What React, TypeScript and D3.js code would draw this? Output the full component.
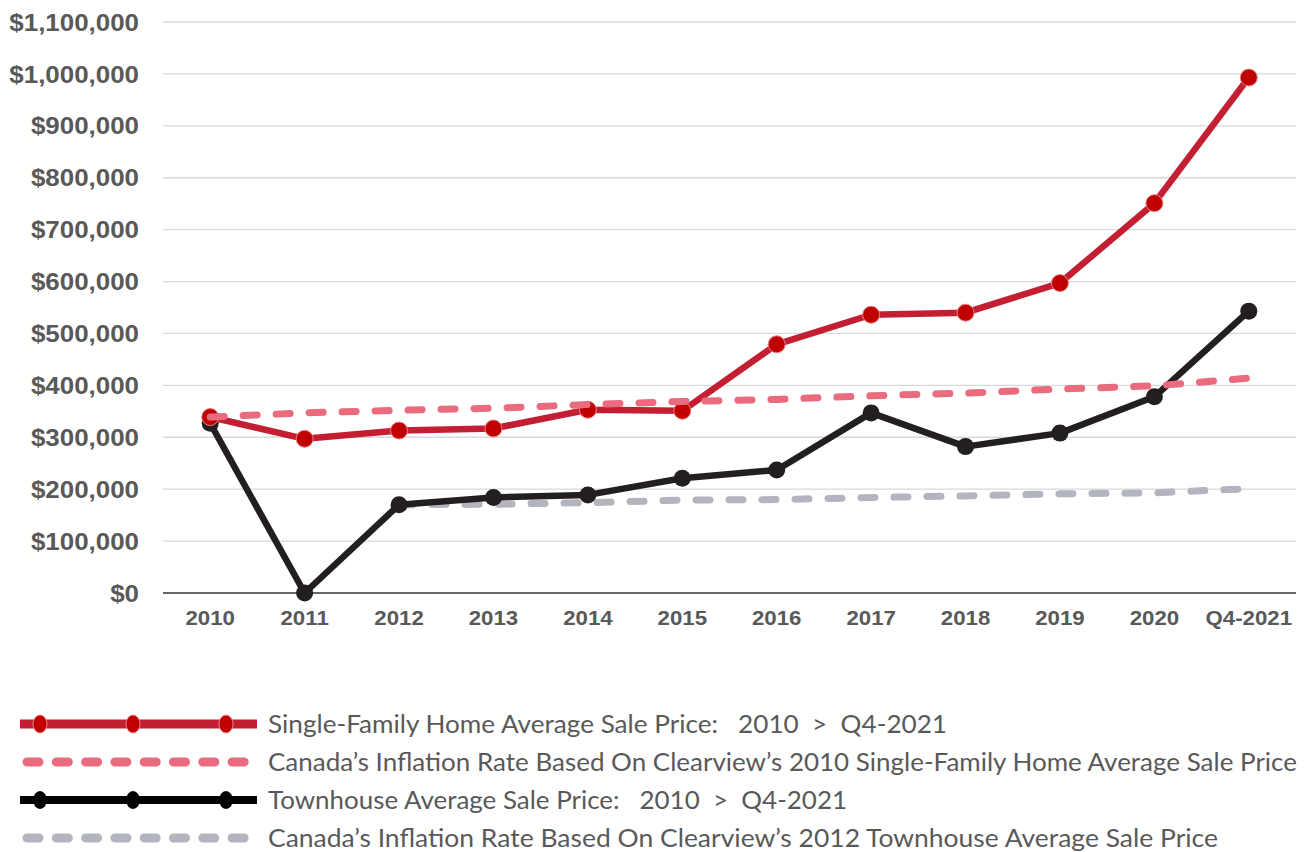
import React from "react";
import * as d3 from "d3";

const categories = ["2010", "2011", "2012", "2013", "2014", "2015", "2016", "2017", "2018", "2019", "2020", "Q4-2021"];
const singleFamily = [339000, 297000, 313000, 317000, 353000, 351000, 479000, 536000, 540000, 597000, 751000, 993000];
const sfInflation = [339000, 347000, 352000, 356000, 363000, 369000, 373000, 380000, 385000, 393000, 399000, 414000];
const townhouse = [327000, 0, 170000, 184000, 189000, 221000, 237000, 347000, 282000, 308000, 378000, 543000];
const thInflation = [null, null, 170000, 171000, 174000, 179000, 180000, 184000, 187000, 191000, 193000, 201000];
const yTicks = [0, 100000, 200000, 300000, 400000, 500000, 600000, 700000, 800000, 900000, 1000000, 1100000];
const legendLabels = [
  "Single-Family Home Average Sale Price:   2010  >  Q4-2021",
  "Canada\u2019s Inflation Rate Based On Clearview\u2019s 2010 Single-Family Home Average Sale Price",
  "Townhouse Average Sale Price:   2010  >  Q4-2021",
  "Canada\u2019s Inflation Rate Based On Clearview\u2019s 2012 Townhouse Average Sale Price",
];
const legendWidths = [679, 1029, 579, 950];

const W = 1305;
const H = 852;
const left = 163;
const right = 1296;
const top = 22;
const bottom = 593;

export default function App() {
  const x = d3.scaleBand<string>().domain(categories).range([left, right]);
  const cx = (c: string) => (x(c) as number) + x.bandwidth() / 2;
  const y = d3.scaleLinear().domain([0, 1100000]).range([bottom, top]);
  const fmt = (v: number) => "$" + d3.format(",")(v);

  const line = d3
    .line<number | null>()
    .defined((d) => d !== null)
    .x((_, i) => cx(categories[i]))
    .y((d) => y(d as number));

  const labelColor = "#595959";
  const red = "#C41E32";
  const redDot = "#C00000";
  const pink = "#E96B7D";
  const black = "#231F20";
  const gray = "#B3B5BE";

  const legendY = [724, 762, 800, 838];
  const legendMarkX = [40, 133, 226];

  return (
    <div style={{ position: "absolute", left: 0, top: 0 }}>
      <svg width={W} height={H} style={{ display: "block", background: "#fff" }}>
        {/* gridlines */}
        {yTicks.slice(1).map((t) => (
          <line key={t} x1={left} x2={right} y1={y(t)} y2={y(t)} stroke="#D9D9D9" strokeWidth={1.3} />
        ))}
        <line x1={left} x2={right} y1={y(0)} y2={y(0)} stroke="#333" strokeWidth={1.3} />
        {/* y labels */}
        {yTicks.map((t) => (
          <text
            key={t}
            transform={`translate(139,${y(t)}) scale(1.08,1)`}
            dy="0.36em"
            textAnchor="end"
            fontFamily="'Liberation Sans', Arial, sans-serif"
            fontWeight="bold"
            fontSize={24}
            fill={labelColor}
          >
            {fmt(t)}
          </text>
        ))}
        {/* x labels */}
        {categories.map((c) => (
          <text
            key={c}
            transform={`translate(${cx(c)},625) scale(1.06,1)`}
            textAnchor="middle"
            fontFamily="'Liberation Sans', Arial, sans-serif"
            fontWeight="bold"
            fontSize={21}
            fill={labelColor}
          >
            {c}
          </text>
        ))}

        {/* townhouse inflation */}
        <path d={line(thInflation) || ""} fill="none" stroke={gray} strokeWidth={7} strokeDasharray="14 19" strokeLinecap="round" />
        {/* townhouse */}
        <path d={line(townhouse) || ""} fill="none" stroke={black} strokeWidth={6.5} strokeLinejoin="round" />
        {townhouse.map((v, i) => (
          <circle key={i} cx={cx(categories[i])} cy={y(v)} r={8.5} fill={black} />
        ))}
        {/* single family */}
        <path d={line(singleFamily) || ""} fill="none" stroke={red} strokeWidth={6.5} strokeLinejoin="round" />
        {singleFamily.map((v, i) => (
          <circle key={i} cx={cx(categories[i])} cy={y(v)} r={8.5} fill={redDot} stroke="#E9848C" strokeWidth={1} />
        ))}
        {/* single family inflation */}
        <path d={line(sfInflation) || ""} fill="none" stroke={pink} strokeWidth={7} strokeDasharray="14 19" strokeLinecap="round" />

        {/* legend */}
        <line x1={20} x2={257} y1={legendY[0]} y2={legendY[0]} stroke={red} strokeWidth={9} />
        {legendMarkX.map((mx) => (
          <ellipse key={"r" + mx} cx={mx} cy={legendY[0]} rx={7} ry={9} fill={redDot} stroke="#E9848C" strokeWidth={1} />
        ))}
        <line x1={27} x2={246} y1={legendY[1]} y2={legendY[1]} stroke={pink} strokeWidth={9} strokeDasharray="12 17.3" strokeLinecap="round" />
        <line x1={20} x2={257} y1={legendY[2]} y2={legendY[2]} stroke="#000" strokeWidth={8} />
        {legendMarkX.map((mx) => (
          <ellipse key={"b" + mx} cx={mx} cy={legendY[2]} rx={7} ry={9} fill="#000" />
        ))}
        <line x1={27} x2={246} y1={legendY[3]} y2={legendY[3]} stroke={gray} strokeWidth={9} strokeDasharray="12 17.3" strokeLinecap="round" />
        {legendLabels.map((l, i) => (
          <text
            key={i}
            x={268}
            y={legendY[i]}
            dy="0.36em"
            fontFamily="Lato, sans-serif"
            fontSize={24.5}
            fill={labelColor}
            textLength={legendWidths[i]}
            lengthAdjust="spacingAndGlyphs"
            style={{ whiteSpace: "pre" }}
          >
            {l}
          </text>
        ))}
      </svg>
    </div>
  );
}
